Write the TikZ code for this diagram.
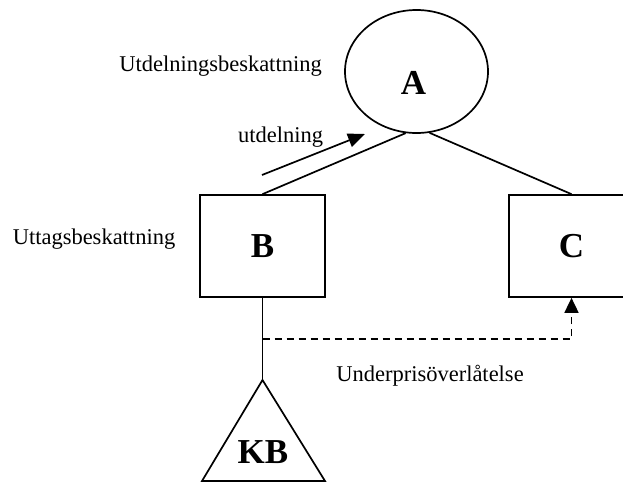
\documentclass[tikz,border=0pt]{standalone}
\usepackage{fontspec}
\setmainfont{Liberation Serif}
\usetikzlibrary{shapes.geometric,arrows.meta}

\begin{document}
\begin{tikzpicture}[x=1pt, y=-1pt,
    company/.style={rectangle,draw,line width=1.7pt,minimum width=125pt,minimum height=102pt,font=\fontsize{35}{40}\selectfont\bfseries},
    owner/.style={ellipse,draw,line width=1.7pt,minimum width=143pt,minimum height=123pt},
    big/.style={font=\fontsize{35}{40}\selectfont\bfseries,inner sep=0pt},
    tax/.style={anchor=base,inner sep=0pt,font=\fontsize{22.5}{27}\selectfont},
    link/.style={line width=1.7pt},
    flow/.style={line width=1.7pt,-{Triangle[length=17pt,width=14pt]}},
    transfer/.style={line width=1.7pt,dash pattern=on 7pt off 5pt,-{Triangle[length=15pt,width=14pt]}}
]
    \useasboundingbox (0,0) rectangle (623,482);

    % the companies
    \node[owner] (A) at (416.5,71.5) {};
    \node[big] (Aname) at (413.5,83) {A};
    \node[company] (B) at (262.5,246) {B};
    \node[company] (C) at (571.5,246) {C};

    % the partnership below B
    \coordinate (KBtop) at (262.5,380);
    \coordinate (KBleft) at (202,481);
    \coordinate (KBright) at (325,481);
    \draw[link] (KBtop) -- (KBleft) -- (KBright) -- cycle;
    \node[big] (KB) at (263,452) {KB};

    % ownership lines
    \draw[link] (A.-100) -- (B.north);
    \draw[link] (A.-78) -- (C.north);
    \draw[link] (B.south) -- (KBtop);

    % dividend and transfer
    \coordinate (utstart) at (262,175);
    \coordinate (utend) at (365,134);
    \draw[flow] (utstart) -- (utend);
    \coordinate (dstart) at (262.5,339);
    \draw[transfer] (dstart) -| (C.south);

    % labels
    \node[tax] (utbesk) at (220.5,71) {Utdelningsbeskattning};
    \node[tax] (utd) at (280.5,142) {utdelning};
    \node[tax] (uttag) at (94,244) {Uttagsbeskattning};
    \node[tax] (under) at (430,381) {Underprisöverlåtelse};

\end{tikzpicture}
\end{document}
